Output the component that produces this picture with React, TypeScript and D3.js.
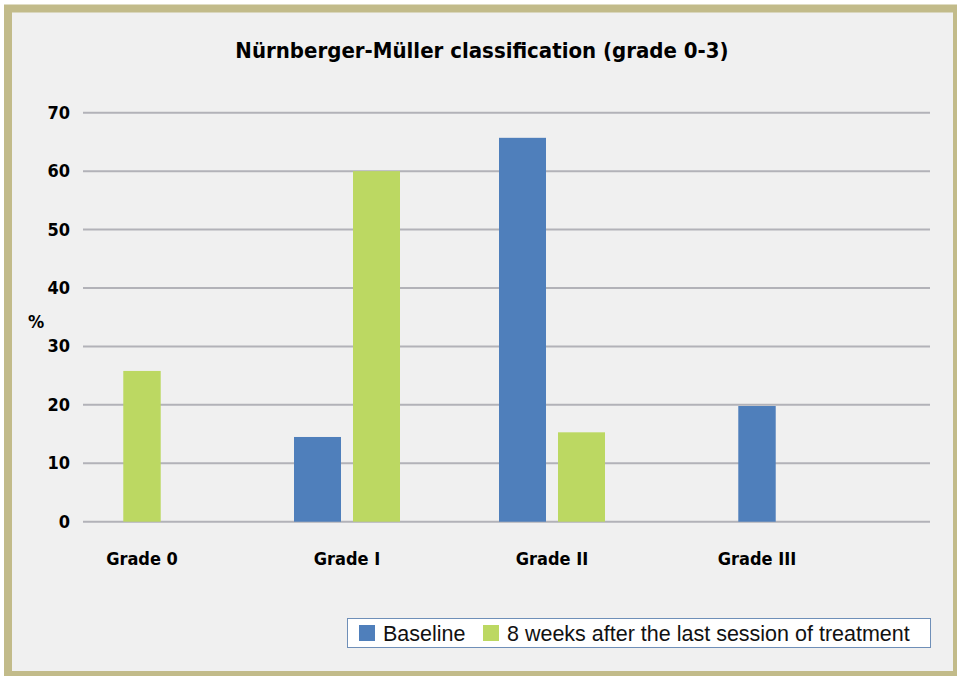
import React, { useEffect, useRef } from 'react';
import * as d3 from 'd3';

const categories = ['Grade 0', 'Grade I', 'Grade II', 'Grade III'];
const baseline = [0, 14.5, 65.7, 19.8];
const afterTreatment = [25.8, 60, 15.3, 0];
const seriesNames = ['Baseline', '8 weeks after the last session of treatment'];
const yTicks = [0, 10, 20, 30, 40, 50, 60, 70];

const W = 957;
const H = 676;
const NARROW = "'Liberation Sans Narrow', 'DejaVu Sans Condensed', 'Arial Narrow', sans-serif";
const SANS = "'Liberation Sans', Arial, Helvetica, sans-serif";

const App: React.FC = () => {
  const svgRef = useRef<SVGSVGElement>(null);

  useEffect(() => {
    if (!svgRef.current) return;
    const svg = d3.select(svgRef.current);
    svg.selectAll('*').remove();

    const colors = ['#4f7fbb', '#bcd862'];

    // frame
    svg.append('rect')
      .attr('x', 8).attr('y', 8.5)
      .attr('width', 949).attr('height', 666.5)
      .attr('fill', '#f0f0f0')
      .attr('stroke', '#c2bb8a')
      .attr('stroke-width', 8);

    svg.append('text')
      .attr('x', 482).attr('y', 58)
      .attr('text-anchor', 'middle')
      .style('font-family', NARROW)
      .style('font-weight', 'bold')
      .style('font-size', '22px')
      .text('Nürnberger-Müller classification (grade 0-3)');

    const y = d3.scaleLinear().domain([0, 70]).range([521.7, 112.7]);
    const x = d3.scalePoint<string>().domain(categories).range([142, 757]);

    // gridlines
    svg.append('g').selectAll('line')
      .data(yTicks)
      .enter()
      .append('line')
      .attr('x1', 83).attr('x2', 930)
      .attr('y1', d => y(d)).attr('y2', d => y(d))
      .attr('stroke', '#b2b2b8')
      .attr('stroke-width', 2);

    svg.append('g').selectAll('text')
      .data(yTicks)
      .enter()
      .append('text')
      .attr('x', 70)
      .attr('y', d => y(d) + 6)
      .attr('text-anchor', 'end')
      .style('font-family', NARROW)
      .style('font-weight', 'bold')
      .style('font-size', '18px')
      .text(d => d);

    svg.append('text')
      .attr('x', 36).attr('y', 328)
      .attr('text-anchor', 'middle')
      .style('font-family', NARROW)
      .style('font-weight', 'bold')
      .style('font-size', '18px')
      .text('%');

    // bars: only non-zero bars are drawn, centred on the category
    const barW = 47;
    const gap = 12;
    categories.forEach((cat, i) => {
      const vals = [baseline[i], afterTreatment[i]]
        .map((v, s) => ({ v, s }))
        .filter(d => d.v > 0);
      const total = vals.length * barW + (vals.length - 1) * gap;
      const inner = d3.scaleBand<number>()
        .domain(vals.map(d => d.s))
        .range([x(cat)! - total / 2, x(cat)! + total / 2])
        .paddingInner(gap / (barW + gap));
      svg.append('g').selectAll('rect')
        .data(vals)
        .enter()
        .append('rect')
        .attr('x', d => inner(d.s)!)
        .attr('width', inner.bandwidth())
        .attr('y', d => y(d.v))
        .attr('height', d => y(0) - y(d.v))
        .attr('fill', d => colors[d.s]);
    });

    svg.append('g').selectAll('text')
      .data(categories)
      .enter()
      .append('text')
      .attr('x', d => x(d)!)
      .attr('y', 565)
      .attr('text-anchor', 'middle')
      .style('font-family', NARROW)
      .style('font-weight', 'bold')
      .style('font-size', '18px')
      .text(d => d);

    // legend
    svg.append('rect')
      .attr('x', 347.5).attr('y', 618.5)
      .attr('width', 583).attr('height', 29)
      .attr('fill', '#ffffff')
      .attr('stroke', '#6f8fb8')
      .attr('stroke-width', 1);
    const legendX = [359, 483];
    seriesNames.forEach((name, s) => {
      svg.append('rect')
        .attr('x', legendX[s]).attr('y', 625)
        .attr('width', 16).attr('height', 16)
        .attr('fill', colors[s]);
      svg.append('text')
        .attr('x', legendX[s] + 24).attr('y', 641)
        .style('font-family', SANS)
        .style('font-size', '21.5px')
        .style('fill', '#111')
        .text(name);
    });
  }, []);

  return (
    <svg
      ref={svgRef}
      width={W}
      height={H}
      style={{ position: 'absolute', left: 0, top: 0, display: 'block' }}
    />
  );
};

export default App;
